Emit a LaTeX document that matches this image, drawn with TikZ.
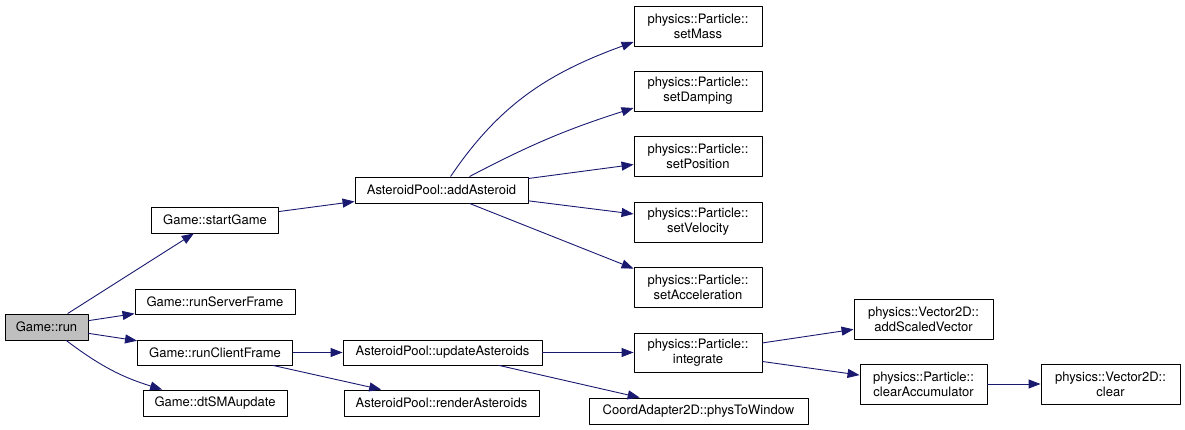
\documentclass[tikz,border=0pt]{standalone}
\usepackage{fontspec}
\setmainfont{TeX Gyre Heros}
\usetikzlibrary{arrows.meta}
\definecolor{edgeblue}{HTML}{191970}
\definecolor{rootgray}{HTML}{BFBFBF}

\begin{document}
\begin{tikzpicture}[x=1pt, y=-1pt, line join=round, >={Triangle[length=12pt,width=9pt]},
  fn/.style={draw=black, fill=white, line width=0.9pt, inner sep=0pt, align=center,
    font=\fontsize{13}{15}\selectfont},
  call/.style={->, draw=edgeblue, line width=0.9pt}]
  \useasboundingbox (0,0) rectangle (1185,430);

  % Root and first level
  \node[fn, fill=rootgray, minimum width=83pt, minimum height=26pt] (run) at (46.5,327) {Game::run};
  \node[fn, minimum width=127pt, minimum height=26pt] (startGame) at (215,220) {Game::startGame};
  \node[fn, minimum width=160pt, minimum height=25pt] (runServer) at (215,301.5) {Game::runServerFrame};
  \node[fn, minimum width=155pt, minimum height=25pt] (runClient) at (215,352.5) {Game::runClientFrame};
  \node[fn, minimum width=144pt, minimum height=26pt] (dtSMA) at (215,403) {Game::dtSMAupdate};

  % AsteroidPool
  \node[fn, minimum width=173pt, minimum height=26pt] (addAst) at (441.5,190) {AsteroidPool::addAsteroid};
  \node[fn, minimum width=199pt, minimum height=25pt] (updAst) at (442.5,352.5) {AsteroidPool::updateAsteroids};
  \node[fn, minimum width=195pt, minimum height=26pt] (rendAst) at (441.5,403) {AsteroidPool::renderAsteroids};

  % Particle column
  \node[fn, minimum width=128pt, minimum height=40pt] (setMass) at (698,26) {physics::Particle::\\setMass};
  \node[fn, minimum width=128pt, minimum height=40pt] (setDamp) at (698,91) {physics::Particle::\\setDamping};
  \node[fn, minimum width=128pt, minimum height=40pt] (setPos) at (698,156) {physics::Particle::\\setPosition};
  \node[fn, minimum width=128pt, minimum height=40pt] (setVel) at (698,222) {physics::Particle::\\setVelocity};
  \node[fn, minimum width=128pt, minimum height=40pt] (setAcc) at (698,287) {physics::Particle::\\setAcceleration};
  \node[fn, minimum width=128pt, minimum height=39pt] (integ) at (698,352.5) {physics::Particle::\\integrate};
  \node[fn, minimum width=219pt, minimum height=26pt] (physWin) at (698.5,411) {CoordAdapter2D::physToWindow};

  % Right part
  \node[fn, minimum width=139pt, minimum height=40pt] (addScaled) at (923.5,319) {physics::Vector2D::\\addScaledVector};
  \node[fn, minimum width=127pt, minimum height=40pt] (clearAcc) at (923.5,384) {physics::Particle::\\clearAccumulator};
  \node[fn, minimum width=139pt, minimum height=40pt] (vecClear) at (1110.5,384) {physics::Vector2D::\\clear};

  % Calls
  \draw[call] (run) -- (startGame);
  \draw[call] (run) -- (runServer);
  \draw[call] (run) -- (runClient);
  \draw[call] (run) to[bend right=10] (dtSMA);
  \draw[call] (startGame) -- (addAst);
  \draw[call] (runClient) -- (updAst);
  \draw[call] (runClient) -- (rendAst);
  \draw[call] (addAst) to[out=56, in=200] ([yshift=-16pt]setMass.west);
  \draw[call] ([xshift=28pt]addAst.north) to[bend left=5] ([yshift=-17pt]setDamp.west);
  \draw[call] (addAst) -- (setPos);
  \draw[call] (addAst) -- (setVel);
  \draw[call] ([xshift=28pt]addAst.south) -- ([yshift=-2pt]setAcc.north west);
  \draw[call] (updAst) -- (integ);
  \draw[call] (updAst) -- (physWin);
  \draw[call] (integ) -- (addScaled);
  \draw[call] (integ) -- (clearAcc);
  \draw[call] (clearAcc) -- (vecClear);
\end{tikzpicture}
\end{document}
